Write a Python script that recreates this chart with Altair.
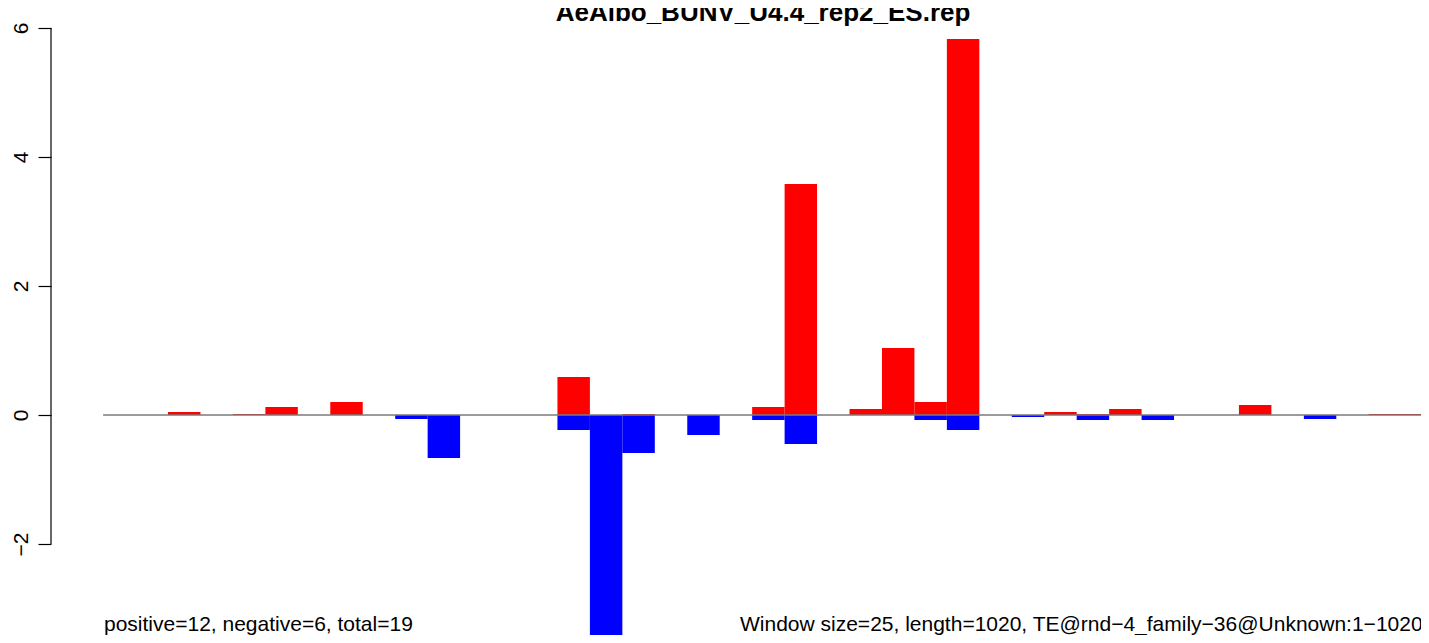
import altair as alt
import pandas as pd

# window index (window size 25, length 1020 -> 41 windows)
windows = list(range(41))
pos_vals = [0, 0, 0.047, 0, 0.016, 0.124, 0, 0.2, 0, 0,
            0, 0, 0, 0, 0.589, 0, 0.016, 0, 0, 0,
            0.124, 3.58, 0, 0.093, 1.04, 0.2, 5.83, 0, 0, 0.047,
            0.016, 0.093, 0, 0, 0, 0.155, 0, 0, 0, 0.016,
            0.016]
neg_vals = [0, 0, 0, 0, 0, 0, 0, 0, 0, -0.062,
            -0.667, 0, 0, 0, -0.233, -3.44, -0.589, 0, -0.31, 0,
            -0.078, -0.45, 0, 0, 0, -0.078, -0.233, 0, -0.031, 0,
            -0.078, 0, -0.078, 0, 0, 0, 0, -0.062, 0, 0,
            0]
y_ticks = [-2, 0, 2, 4, 6]
title_text = "AeAlbo_BUNV_U4.4_rep2_ES.rep"
left_note = "positive=12, negative=6, total=19"
right_note = "Window size=25, length=1020, TE@rnd\u22124_family\u221236@Unknown:1\u22121020"

rows = []
for w, p, n in zip(windows, pos_vals, neg_vals):
    if p != 0:
        rows.append({"start": w, "end": w + 1, "value": p, "base": 0, "sign": "pos"})
    if n != 0:
        rows.append({"start": w, "end": w + 1, "value": n, "base": 0, "sign": "neg"})
df = pd.DataFrame(rows)

PW, PH = 1370, 609
xscale = alt.Scale(domain=[-1.606, 40.61], nice=False, zero=False)
yscale = alt.Scale(domain=[-3.411, 6.031], nice=False, zero=False)
FONT = "Liberation Sans"

bars = alt.Chart(df).mark_rect().encode(
    x=alt.X("start:Q", scale=xscale, axis=None),
    x2="end:Q",
    y=alt.Y("value:Q", scale=yscale,
            axis=alt.Axis(values=y_ticks, format="d", title=None, grid=False, domain=False,
                          tickSize=13, tickColor="black", tickWidth=1.2,
                          labelAngle=270, labelAlign="center", labelBaseline="alphabetic",
                          labelPadding=11, labelFont=FONT, labelFontSize=21,
                          labelColor="black", labelOverlap=False, labelFlush=False)),
    y2="base:Q",
    color=alt.Color("sign:N", scale=alt.Scale(domain=["pos", "neg"], range=["#ff0000", "#0000ff"]),
                    legend=None),
)

one = pd.DataFrame({"a": [0]})
baseline = alt.Chart(one).mark_rule(color="#7a7a7a", strokeWidth=1.3).encode(
    x=alt.datum(0, scale=xscale), x2=alt.datum(41), y=alt.datum(0, scale=yscale)
)
yaxis_line = alt.Chart(one).mark_rule(color="black", strokeWidth=1.2).encode(
    x=alt.value(0), y=alt.datum(-2, scale=yscale), y2=alt.datum(6)
)
title = alt.Chart(one).mark_text(text=title_text, font=FONT, fontSize=26, fontWeight="bold",
                                 align="center", baseline="alphabetic", color="black").encode(
    x=alt.value(712), y=alt.value(-5)
)
note1 = alt.Chart(one).mark_text(text=left_note, font=FONT, fontSize=21,
                                 align="left", baseline="alphabetic", color="black").encode(
    x=alt.value(53), y=alt.value(605)
)
note2 = alt.Chart(one).mark_text(text=right_note, font=FONT, fontSize=21,
                                 align="left", baseline="alphabetic", color="black").encode(
    x=alt.value(689), y=alt.value(605)
)

chart = alt.layer(bars, baseline, yaxis_line, title, note1, note2).properties(
    width=PW, height=PH,
    autosize=alt.AutoSizeParams(type="none"),
    padding={"left": 43, "top": 18, "right": 0, "bottom": 0},
).configure_view(stroke=None)

chart.save("out.html", embed_options={"renderer": "svg", "actions": False})
